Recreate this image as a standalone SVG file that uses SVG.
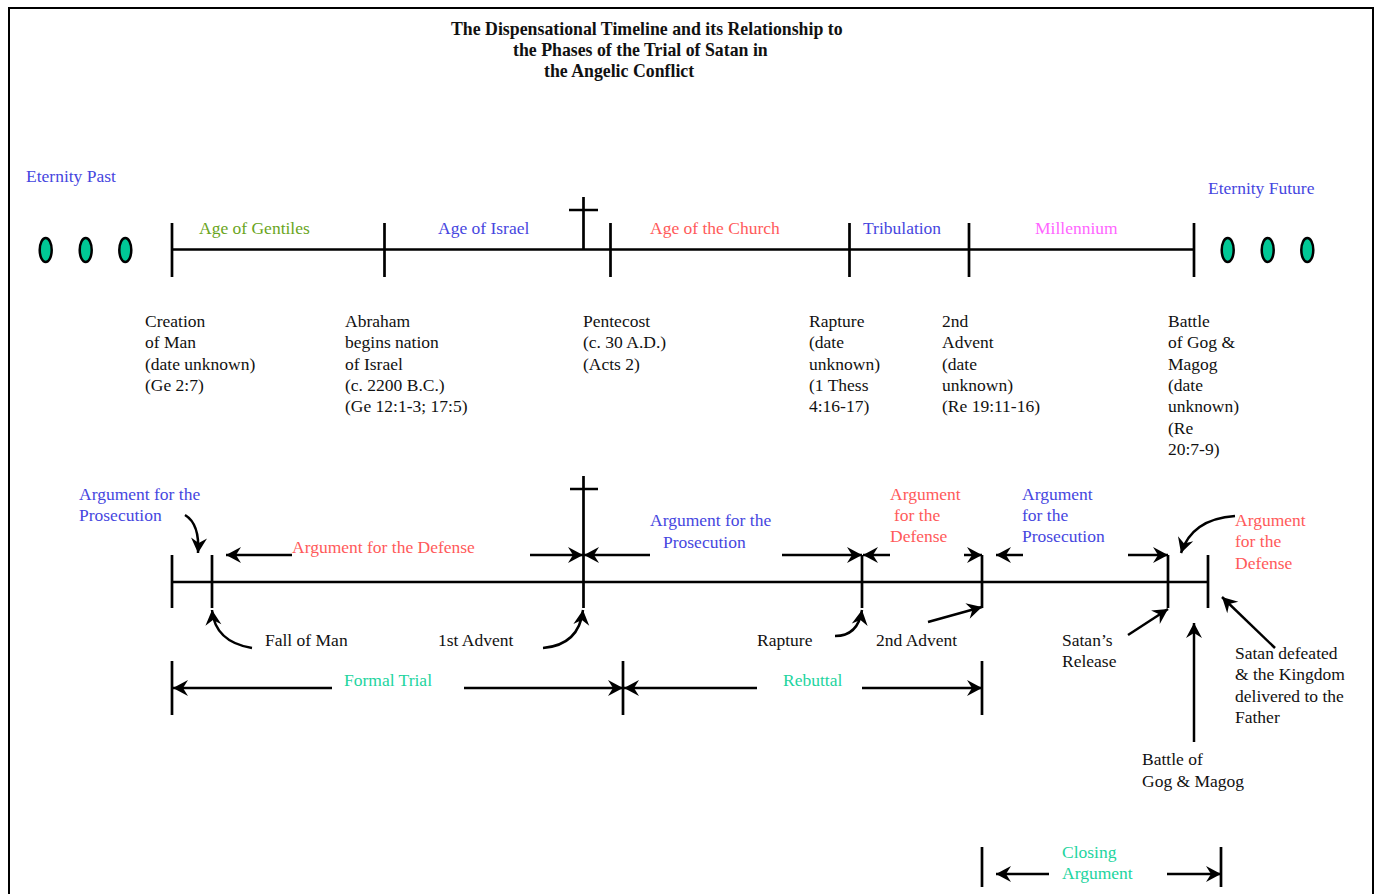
<svg xmlns="http://www.w3.org/2000/svg" width="1379" height="894" viewBox="0 0 1379 894">
<defs>
<marker id="ah" viewBox="-16 -9 17 18" refX="0" refY="0" markerWidth="17" markerHeight="18" markerUnits="userSpaceOnUse" orient="auto">
<path d="M0,0 L-15,-8 L-10,0 L-15,8 Z" fill="#000"/>
</marker>
</defs>
<style>
text{font-family:"Liberation Serif","Times New Roman",serif;font-size:17.5px;fill:#111}
.t{font-weight:bold;font-size:17.8px}
.b{fill:#4646e0}.r{fill:#ff5a5a}.g{fill:#6aa51c}.c{fill:#22d49e}.m{fill:#ff66ff}
.ln{stroke:#000;stroke-width:2.7;fill:none}
.ar{stroke:#000;stroke-width:2.5;fill:none;marker-end:url(#ah)}
.ov{fill:#00c896;stroke:#000;stroke-width:2.5}
</style>
<rect x="0" y="0" width="1379" height="894" fill="#fff"/>
<rect x="9" y="8" width="1364" height="900" fill="none" stroke="#000" stroke-width="2"/>
<g id="title">
<text class="t" x="451" y="35">The Dispensational Timeline and its Relationship to</text>
<text class="t" x="513" y="56">the Phases of the Trial of Satan in</text>
<text class="t" x="544" y="77">the Angelic Conflict</text>
</g>
<g id="timeline-top">
<path class="ln" d="M172,249.5H1194M172,223V277M384.5,223V277M610.5,223V277M849.5,223V277M969,223V277M1194,223V277M583.5,197V249.5M569,210H598"/>
<ellipse class="ov" cx="45.7" cy="250" rx="6" ry="12"/>
<ellipse class="ov" cx="85.7" cy="250" rx="6" ry="12"/>
<ellipse class="ov" cx="125.3" cy="250" rx="6" ry="12"/>
<ellipse class="ov" cx="1227.7" cy="250" rx="6" ry="12"/>
<ellipse class="ov" cx="1267.7" cy="250" rx="6" ry="12"/>
<ellipse class="ov" cx="1307.3" cy="250" rx="6" ry="12"/>
</g>
<g id="ages">
<text class="b" x="26" y="182">Eternity Past</text>
<text class="g" x="199" y="234">Age of Gentiles</text>
<text class="b" x="438" y="234">Age of Israel</text>
<text class="r" x="650" y="234">Age of the Church</text>
<text class="b" x="863" y="234">Tribulation</text>
<text class="m" x="1035" y="234">Millennium</text>
<text class="b" x="1208" y="194">Eternity Future</text>
</g>
<g id="events">
<text x="145" y="327">Creation<tspan x="145" dy="21.3">of Man</tspan><tspan x="145" dy="21.3">(date unknown)</tspan><tspan x="145" dy="21.3">(Ge 2:7)</tspan></text>
<text x="345" y="327">Abraham<tspan x="345" dy="21.3">begins nation</tspan><tspan x="345" dy="21.3">of Israel</tspan><tspan x="345" dy="21.3">(c. 2200 B.C.)</tspan><tspan x="345" dy="21.3">(Ge 12:1-3; 17:5)</tspan></text>
<text x="583" y="327">Pentecost<tspan x="583" dy="21.3">(c. 30 A.D.)</tspan><tspan x="583" dy="21.3">(Acts 2)</tspan></text>
<text x="809" y="327">Rapture<tspan x="809" dy="21.3">(date</tspan><tspan x="809" dy="21.3">unknown)</tspan><tspan x="809" dy="21.3">(1 Thess</tspan><tspan x="809" dy="21.3">4:16-17)</tspan></text>
<text x="942" y="327">2nd<tspan x="942" dy="21.3">Advent</tspan><tspan x="942" dy="21.3">(date</tspan><tspan x="942" dy="21.3">unknown)</tspan><tspan x="942" dy="21.3">(Re 19:11-16)</tspan></text>
<text x="1168" y="327">Battle<tspan x="1168" dy="21.3">of Gog &amp;</tspan><tspan x="1168" dy="21.3">Magog</tspan><tspan x="1168" dy="21.3">(date</tspan><tspan x="1168" dy="21.3">unknown)</tspan><tspan x="1168" dy="21.3">(Re</tspan><tspan x="1168" dy="21.3">20:7-9)</tspan></text>
</g>
<g id="timeline-trial">
<path class="ln" d="M172,582H1208M172,555V608M212,555V608M583.5,476V608M570,489H598M862,555V608M982,555V608M1168,555V608M1208,555V608"/>
</g>
<g id="trial-labels">
<text class="b" x="79" y="500">Argument for the<tspan x="79" dy="21">Prosecution</tspan></text>
<text class="r" x="292" y="553">Argument for the Defense</text>
<text class="b" x="650" y="526">Argument for the<tspan x="663" dy="21.5">Prosecution</tspan></text>
<text class="r" x="890" y="500">Argument<tspan x="894" dy="21">for the</tspan><tspan x="890" dy="21">Defense</tspan></text>
<text class="b" x="1022" y="500">Argument<tspan x="1022" dy="21">for the</tspan><tspan x="1022" dy="21">Prosecution</tspan></text>
<text class="r" x="1235" y="526">Argument<tspan x="1235" dy="21">for the</tspan><tspan x="1235" dy="21.5">Defense</tspan></text>
<text x="265" y="646">Fall of Man</text>
<text x="438" y="646">1st Advent</text>
<text x="757" y="646">Rapture</text>
<text x="876" y="646">2nd Advent</text>
<text x="1062" y="646">Satan’s<tspan x="1062" dy="21">Release</tspan></text>
<text x="1235" y="659">Satan defeated<tspan x="1235" dy="21.3">&amp; the Kingdom</tspan><tspan x="1235" dy="21.3">delivered to the</tspan><tspan x="1235" dy="21.3">Father</tspan></text>
<text x="1142" y="765">Battle of<tspan x="1142" dy="22">Gog &amp; Magog</tspan></text>
</g>
<g id="phases">
<path class="ln" d="M172,661V715M623,661V715M982,661V715M982,847V887M1221,847V887"/>
<text class="c" x="344" y="686">Formal Trial</text>
<text class="c" x="783" y="686">Rebuttal</text>
<text class="c" x="1062" y="858">Closing<tspan x="1062" dy="21">Argument</tspan></text>
</g>
<g id="connectors">
<path class="ar" d="M185,515Q200,524 198,553"/>
<path class="ar" d="M292,555H226"/>
<path class="ar" d="M530,555H583"/>
<path class="ar" d="M650,555H584"/>
<path class="ar" d="M782,555H862"/>
<path class="ar" d="M890,555H863"/>
<path class="ar" d="M964,555H982"/>
<path class="ar" d="M1023,555H996"/>
<path class="ar" d="M1128,555H1168"/>
<path class="ar" d="M1235,516Q1192,519 1181,553"/>
<path class="ar" d="M252,648Q215,642 212,610"/>
<path class="ar" d="M543,648Q579,645 583,610"/>
<path class="ar" d="M835,636Q858,636 862,610"/>
<path class="ar" d="M928,622L982,607"/>
<path class="ar" d="M1128,635L1168,609"/>
<path class="ar" d="M1194,742V623"/>
<path class="ar" d="M1275,648L1222,597"/>
<path class="ar" d="M332,688H173"/>
<path class="ar" d="M464,688H623"/>
<path class="ar" d="M757,688H624"/>
<path class="ar" d="M862,688H982"/>
<path class="ar" d="M1049,874H996"/>
<path class="ar" d="M1167,874H1221"/>
</g>
</svg>
